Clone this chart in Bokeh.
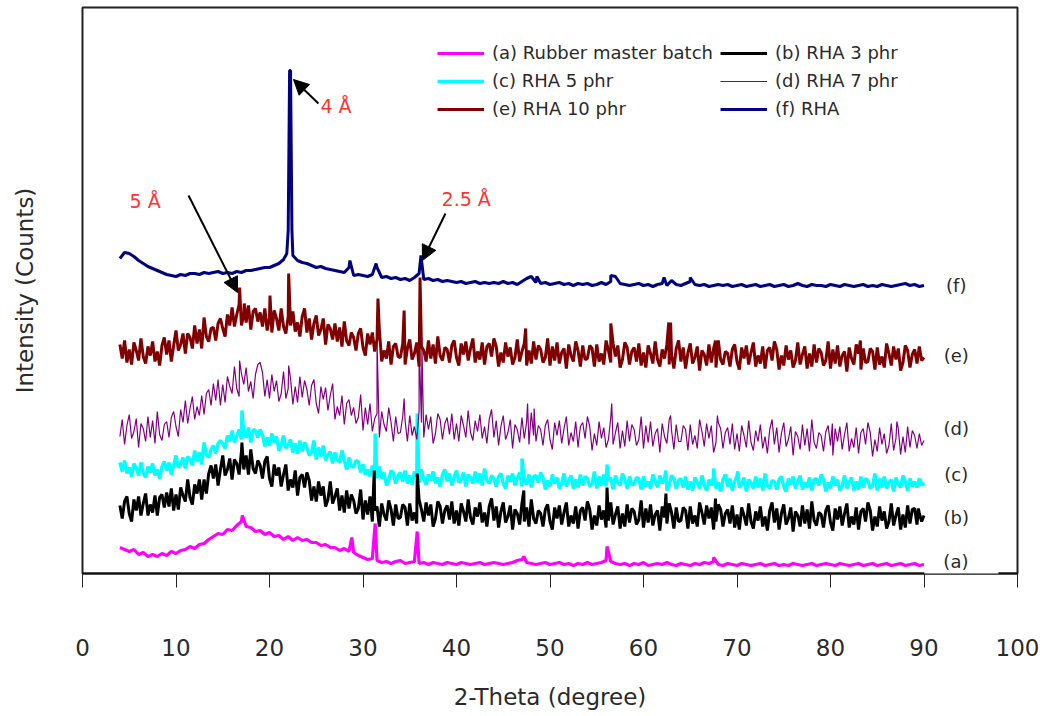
import numpy as np
from bokeh.plotting import figure
from bokeh.models import (FixedTicker, Legend, LegendItem, Label, Arrow,
                          NormalHead, Range1d, ColumnDataSource)
from bokeh.embed import file_html
from bokeh.resources import INLINE

# ---------------- data: 2-theta scans from 4 to 90 deg ----------------
X_START = 4.0
STEP_COARSE = 0.5    # (a), (f)
STEP_FINE = 0.25     # (b), (c), (d), (e)

# (a) Rubber master batch  (step 0.5)
A_VALS = [26, 24, 22, 24, 19, 21, 17, 19, 17, 20,
          18, 22, 20, 23, 24, 27, 25, 29, 30, 34,
          37, 40, 39, 44, 43, 48, 52, 47, 46, 42,
          43, 39, 41, 37, 38, 34, 37, 33, 36, 33,
          34, 31, 31, 28, 29, 26, 26, 23, 25, 22,
          21, 18, 16, 14, 15, 13, 11, 12, 10, 12,
          13, 10, 11, 12, 10, 11, 9, 11, 10, 9,
          11, 10, 9, 11, 10, 9, 10, 11, 9, 10,
          11, 10, 9, 10, 11, 13, 14, 11, 10, 9,
          10, 11, 9, 10, 11, 9, 10, 8, 10, 9,
          11, 9, 10, 11, 13, 12, 10, 9, 10, 8,
          10, 9, 11, 8, 9, 10, 9, 11, 9, 8,
          10, 9, 8, 10, 9, 11, 10, 12, 9, 8,
          10, 9, 8, 10, 9, 8, 9, 10, 8, 9,
          10, 8, 9, 8, 10, 9, 8, 9, 10, 8,
          9, 10, 9, 8, 10, 9, 8, 9, 10, 8,
          9, 10, 8, 9, 10, 8, 9, 10, 8, 9,
          10, 8, 9]
A_PEAK_X = [17.1, 28.8, 31.3, 35.8, 47.2, 56.1, 67.5]
A_PEAK_Y = [58, 36, 50, 42, 17, 27, 16]

# (b) RHA 3 phr  (step 0.25)
B_VALS = [68, 55, 72, 77, 60, 52, 74, 63, 77, 58, 70, 80, 58, 69, 61, 78, 58, 76, 79, 66,
          81, 67, 85, 63, 79, 64, 86, 78, 72, 94, 76, 69, 89, 80, 94, 74, 94, 80, 100, 108,
          95, 109, 88, 104, 118, 98, 104, 115, 94, 114, 110, 99, 122, 104, 118, 99, 124, 105, 100, 113,
          108, 95, 112, 117, 95, 87, 109, 98, 106, 87, 99, 109, 83, 94, 86, 103, 78, 96, 99, 86,
          101, 93, 73, 87, 72, 92, 78, 87, 67, 74, 92, 70, 77, 85, 63, 78, 61, 83, 65, 79,
          73, 60, 65, 84, 54, 73, 59, 77, 52, 63, 67, 47, 70, 59, 53, 73, 64, 48, 69, 55,
          56, 69, 66, 48, 70, 53, 61, 50, 74, 64, 52, 71, 58, 69, 47, 55, 72, 67, 50, 63,
          68, 54, 72, 50, 63, 48, 70, 62, 52, 74, 56, 49, 66, 57, 71, 51, 61, 47, 67, 75,
          53, 67, 46, 62, 71, 51, 57, 68, 44, 64, 60, 49, 70, 52, 66, 47, 74, 55, 50, 63,
          60, 47, 64, 69, 52, 44, 66, 55, 68, 49, 61, 71, 47, 58, 50, 67, 45, 63, 66, 53,
          72, 64, 44, 58, 48, 68, 54, 63, 46, 53, 71, 49, 59, 67, 45, 60, 47, 69, 51, 65,
          62, 49, 54, 73, 46, 65, 51, 69, 48, 59, 63, 43, 67, 56, 50, 70, 61, 45, 66, 52,
          53, 66, 63, 45, 67, 50, 58, 47, 71, 61, 49, 68, 55, 66, 44, 52, 69, 64, 47, 60,
          64, 50, 68, 46, 59, 44, 66, 58, 48, 70, 52, 45, 62, 53, 67, 47, 57, 43, 63, 71,
          51, 65, 44, 60, 69, 49, 55, 66, 42, 62, 58, 47, 68, 50, 64, 45, 72, 53, 48, 61,
          59, 46, 63, 68, 51, 43, 65, 54, 67, 48, 60, 70, 46, 57, 49, 66, 44, 62, 65, 52,
          71, 63, 43, 57, 47, 67, 53, 62, 45, 52, 70, 48, 58, 66, 44, 59, 46, 68, 50, 64,
          65, 49, 60, 52, 58]
B_PEAK_X = [17.05, 31.2, 35.8, 47.2, 56.1, 62.4, 67.7, 89.4]
B_PEAK_Y = [131, 103, 100, 83, 86, 80, 75, 65]

# (c) RHA 5 phr  (step 0.25)
C_VALS = [111, 102, 113, 100, 106, 97, 110, 105, 98, 111, 101, 96, 107, 101, 110, 98, 104, 95, 107, 112,
          103, 111, 99, 108, 118, 106, 109, 116, 105, 117, 114, 108, 123, 112, 121, 109, 131, 119, 116, 124,
          128, 120, 130, 133, 130, 125, 138, 132, 143, 131, 138, 144, 134, 141, 136, 146, 131, 144, 143, 136,
          144, 139, 127, 136, 128, 140, 131, 137, 123, 128, 138, 125, 129, 134, 121, 130, 120, 133, 122, 131,
          126, 118, 121, 133, 114, 126, 117, 128, 113, 119, 122, 110, 121, 114, 111, 123, 113, 104, 116, 108,
          106, 113, 112, 101, 109, 99, 104, 97, 108, 102, 95, 107, 95, 101, 88, 93, 103, 100, 90, 98,
          101, 92, 103, 90, 98, 89, 102, 97, 91, 104, 94, 89, 99, 93, 102, 90, 96, 87, 99, 104,
          92, 100, 88, 97, 103, 91, 94, 101, 87, 99, 96, 90, 102, 91, 100, 88, 105, 93, 90, 98,
          95, 87, 97, 100, 90, 85, 98, 92, 100, 88, 95, 101, 87, 94, 89, 99, 86, 97, 98, 91,
          101, 96, 84, 93, 87, 99, 90, 96, 85, 90, 100, 87, 93, 98, 85, 94, 86, 99, 88, 97,
          95, 87, 90, 102, 85, 97, 88, 99, 87, 93, 96, 84, 98, 91, 88, 100, 94, 85, 97, 89,
          89, 96, 95, 84, 97, 87, 92, 85, 99, 93, 86, 98, 90, 96, 83, 88, 98, 95, 85, 93,
          95, 86, 97, 84, 92, 83, 96, 91, 85, 98, 88, 83, 94, 88, 97, 85, 91, 82, 94, 99,
          87, 95, 83, 92, 98, 86, 89, 96, 82, 94, 91, 85, 97, 86, 95, 83, 100, 88, 85, 93,
          92, 84, 94, 97, 87, 82, 95, 89, 97, 85, 92, 98, 84, 91, 86, 96, 83, 94, 95, 88,
          99, 94, 82, 91, 85, 97, 88, 94, 83, 88, 98, 85, 91, 96, 83, 92, 84, 97, 86, 95,
          93, 85, 88, 100, 83, 95, 86, 97, 85, 91, 94, 82, 96, 89, 86, 98, 92, 83, 95, 87,
          92, 86, 95, 88, 91]
C_PEAK_X = [17.05, 31.3, 35.8, 47.0, 56.1, 62.4, 67.5, 70.1]
C_PEAK_Y = [163, 140, 160, 115, 109, 103, 105, 102]

# (d) RHA 7 phr  (step 0.25)
D_VALS = [137, 154, 129, 148, 159, 135, 142, 155, 126, 150, 145, 132, 157, 136, 153, 130, 162, 139, 133, 149,
          152, 136, 156, 162, 147, 137, 164, 151, 173, 150, 165, 177, 154, 167, 158, 178, 159, 180, 184, 168,
          190, 173, 194, 168, 189, 171, 197, 187, 180, 207, 185, 177, 200, 189, 206, 182, 192, 175, 199, 209,
          211, 201, 177, 194, 175, 199, 182, 193, 172, 180, 202, 175, 185, 195, 169, 187, 171, 197, 176, 193,
          184, 168, 188, 194, 170, 160, 187, 174, 186, 163, 178, 190, 154, 167, 158, 178, 149, 170, 174, 158,
          166, 150, 156, 179, 143, 166, 149, 170, 142, 155, 160, 136, 162, 149, 142, 166, 151, 132, 157, 140,
          141, 157, 153, 132, 158, 138, 147, 134, 163, 151, 136, 159, 144, 157, 130, 140, 160, 154, 134, 150,
          156, 139, 160, 134, 150, 132, 158, 148, 136, 163, 141, 133, 153, 142, 159, 135, 147, 130, 154, 164,
          136, 153, 128, 147, 158, 134, 141, 154, 125, 149, 144, 131, 156, 135, 152, 129, 161, 138, 132, 148,
          144, 128, 148, 154, 134, 124, 151, 138, 153, 130, 145, 157, 128, 141, 132, 152, 126, 147, 151, 135,
          157, 147, 123, 140, 128, 152, 135, 146, 126, 134, 156, 129, 141, 151, 125, 143, 127, 153, 132, 149,
          144, 128, 134, 157, 125, 148, 131, 152, 127, 140, 145, 121, 150, 137, 130, 154, 143, 124, 149, 132,
          132, 148, 144, 123, 149, 129, 138, 125, 154, 142, 127, 150, 135, 148, 121, 131, 151, 145, 125, 141,
          146, 129, 150, 124, 140, 122, 148, 138, 126, 153, 131, 123, 143, 132, 149, 125, 137, 120, 144, 154,
          129, 146, 121, 140, 151, 127, 134, 147, 118, 142, 137, 124, 149, 128, 145, 122, 154, 131, 125, 141,
          138, 122, 142, 148, 128, 118, 145, 132, 147, 124, 139, 151, 122, 135, 126, 146, 120, 141, 145, 129,
          151, 141, 117, 134, 122, 146, 129, 140, 120, 128, 150, 123, 135, 145, 119, 137, 121, 147, 126, 143,
          138, 125, 140, 128, 133]
D_PEAK_X = [16.8, 22.05, 31.5, 34.4, 36.0, 36.3, 47.6, 48.3, 56.6, 62.9, 67.9, 80.2, 87.1]
D_PEAK_Y = [213, 208, 233, 175, 233, 228, 170, 165, 170, 158, 158, 150, 152]

# (e) RHA 10 phr  (step 0.25)
E_VALS = [229, 215, 233, 211, 224, 209, 231, 223, 213, 235, 217, 210, 227, 218, 232, 212, 222, 208, 228, 236,
          219, 233, 212, 228, 243, 223, 229, 240, 220, 240, 236, 225, 248, 230, 244, 225, 256, 237, 232, 245,
          246, 233, 250, 255, 245, 237, 259, 248, 266, 247, 259, 269, 248, 259, 251, 268, 244, 262, 265, 252,
          261, 247, 265, 243, 256, 241, 263, 255, 243, 265, 247, 240, 257, 248, 262, 242, 251, 237, 257, 265,
          241, 255, 234, 250, 258, 238, 244, 255, 229, 249, 245, 234, 250, 232, 246, 227, 252, 233, 228, 241,
          236, 223, 240, 245, 226, 218, 240, 229, 241, 222, 234, 244, 212, 223, 215, 232, 209, 227, 230, 217,
          216, 230, 209, 225, 234, 214, 220, 231, 207, 227, 223, 212, 233, 215, 229, 210, 237, 218, 213, 226,
          224, 211, 228, 233, 216, 208, 230, 219, 232, 213, 225, 235, 211, 222, 214, 231, 209, 227, 230, 217,
          235, 227, 207, 221, 211, 231, 217, 226, 209, 216, 234, 212, 222, 230, 208, 223, 210, 232, 214, 228,
          224, 211, 216, 235, 208, 227, 213, 231, 210, 221, 225, 205, 229, 218, 212, 232, 223, 207, 228, 214,
          215, 228, 225, 207, 229, 212, 220, 209, 233, 223, 211, 230, 217, 228, 206, 214, 231, 226, 209, 222,
          226, 212, 230, 208, 221, 206, 228, 220, 210, 232, 214, 207, 224, 215, 229, 209, 219, 205, 225, 233,
          212, 226, 205, 221, 230, 210, 216, 227, 203, 223, 219, 208, 229, 211, 225, 206, 233, 214, 209, 222,
          220, 207, 224, 229, 212, 204, 226, 215, 228, 209, 221, 231, 207, 218, 210, 227, 205, 223, 226, 213,
          232, 224, 204, 218, 208, 228, 214, 223, 206, 213, 231, 209, 219, 227, 205, 220, 207, 229, 211, 225,
          221, 208, 213, 232, 205, 224, 210, 228, 207, 218, 222, 202, 226, 215, 209, 229, 220, 204, 225, 211,
          212, 225, 222, 204, 226, 209, 217, 206, 230, 220, 208, 227, 214, 225, 203, 211, 228, 223, 206, 219,
          224, 210, 227, 213, 216]
E_PEAK_X = [16.8, 17.3, 20.05, 22.05, 31.6, 34.4, 36.1, 47.4, 56.5, 62.7, 62.9, 67.7, 83.2]
E_PEAK_Y = [286, 270, 278, 300, 275, 263, 296, 245, 250, 251, 251, 233, 233]

# (f) RHA  (step 0.5)
F_VALS = [315, 321, 320, 317, 313, 310, 307, 305, 303, 301,
          299, 298, 297, 299, 298, 300, 300, 299, 301, 300,
          301, 302, 300, 301, 300, 302, 301, 303, 303, 304,
          305, 306, 306, 308, 310, 314, 343, 318, 313, 311,
          310, 308, 306, 307, 305, 304, 303, 302, 301, 306,
          298, 299, 298, 297, 299, 306, 296, 297, 295, 296,
          294, 295, 293, 296, 300, 294, 295, 293, 294, 292,
          293, 292, 291, 292, 290, 291, 292, 290, 291, 290,
          291, 290, 292, 290, 291, 289, 292, 295, 297, 291,
          290, 291, 289, 290, 291, 289, 290, 288, 290, 289,
          290, 288, 289, 291, 289, 292, 297, 290, 289, 288,
          289, 290, 288, 289, 287, 289, 290, 288, 293, 289,
          288, 290, 292, 289, 288, 289, 287, 288, 289, 288,
          289, 287, 288, 289, 287, 288, 289, 287, 288, 289,
          287, 288, 289, 287, 288, 290, 288, 287, 289, 288,
          288, 287, 289, 288, 287, 289, 288, 287, 288, 289,
          287, 288, 287, 289, 288, 287, 288, 289, 290, 288,
          289, 287, 288]
F_PEAK_X = [21.85, 22.15, 22.25, 22.4, 28.6, 31.4, 36.2, 48.6, 56.5, 62.2, 65.0]
F_PEAK_Y = [320, 503, 503, 343, 313, 310, 318, 297, 298, 296, 296]

SERIES_LABELS = ["(a) Rubber master batch", "(b) RHA 3 phr", "(c) RHA 5 phr",
                 "(d) RHA 7 phr", "(e) RHA 10 phr", "(f) RHA"]
SERIES_TAGS = ["(a)", "(b)", "(c)", "(d)", "(e)", "(f)"]
SERIES_COLORS = ["#ff00ff", "#000000", "#00ffff", "#800080", "#800000", "#000080"]
SERIES_WIDTHS = [3.2, 3.0, 3.4, 1.2, 3.0, 3.0]

# right-hand series tags (data units)
TAG_X = 93.45
TAG_Y = [10, 56, 99, 145, 218, 288]
TAG_A_BOX_X = 94.0   # the "(a)" tag sits in a white box that breaks the x axis line

# d-spacing annotations (data units)
ANNOT_TEXT = ["4 Å", "5 Å", "2.5 Å"]
ANNOT_TX = [25.45, 5.03, 38.40]
ANNOT_TY = [468, 373, 375]
ARROW_X0 = [25.24, 11.34, 38.82]
ARROW_Y0 = [470, 378, 360]
ARROW_X1 = [22.57, 16.58, 36.36]
ARROW_Y1 = [494, 281, 313]

X_TICKS = [0, 10, 20, 30, 40, 50, 60, 70, 80, 90, 100]

FONT = "DejaVu Sans"
TEXT_COLOR = "#2a2a2a"


def build(vals, step, px, py):
    n_expected = int(round((90 - X_START) / step)) + 1
    assert len(vals) == n_expected, (len(vals), n_expected)
    xs = list(X_START + step * np.arange(len(vals))) + list(px)
    ys = list(vals) + list(py)
    order = np.argsort(np.array(xs), kind="stable")
    return np.array(xs)[order], np.array(ys, dtype=float)[order]


data = [build(A_VALS, STEP_COARSE, A_PEAK_X, A_PEAK_Y),
        build(B_VALS, STEP_FINE, B_PEAK_X, B_PEAK_Y),
        build(C_VALS, STEP_FINE, C_PEAK_X, C_PEAK_Y),
        build(D_VALS, STEP_FINE, D_PEAK_X, D_PEAK_Y),
        build(E_VALS, STEP_FINE, E_PEAK_X, E_PEAK_Y),
        build(F_VALS, STEP_COARSE, F_PEAK_X, F_PEAK_Y)]

p = figure(width=1046, height=716, x_range=Range1d(0, 100), y_range=Range1d(0, 566),
           output_backend="svg", toolbar_location=None,
           min_border_left=82, min_border_right=29, min_border_top=7, min_border_bottom=143)
p.grid.visible = False
p.background_fill_color = "white"
p.border_fill_color = "white"
p.outline_line_color = "#222222"
p.outline_line_width = 2

xa = p.xaxis[0]
xa.ticker = FixedTicker(ticks=X_TICKS)
xa.minor_tick_line_color = None
xa.major_tick_in = 0
xa.major_tick_out = 14
xa.major_tick_line_width = 1
xa.major_tick_line_color = "#222222"
xa.axis_line_width = 2
xa.axis_line_color = "#111111"
xa.major_label_text_font = FONT
xa.major_label_text_font_size = "23px"
xa.major_label_text_color = TEXT_COLOR
xa.major_label_standoff = 51
xa.axis_label = "2-Theta (degree)"
xa.axis_label_text_font = FONT
xa.axis_label_text_font_size = "23px"
xa.axis_label_text_font_style = "normal"
xa.axis_label_text_color = TEXT_COLOR
xa.axis_label_standoff = 25

ya = p.yaxis[0]
ya.ticker = FixedTicker(ticks=[])
ya.axis_line_color = None
ya.major_tick_line_color = None
ya.minor_tick_line_color = None
ya.major_label_text_font_size = "0px"
ya.axis_label = "Intensity (Counts)"
ya.axis_label_text_font = FONT
ya.axis_label_text_font_size = "23px"
ya.axis_label_text_font_style = "normal"
ya.axis_label_text_color = TEXT_COLOR
ya.axis_label_standoff = 45

renderers = {}
for i in [0, 2, 1, 3, 4, 5]:
    xs, ys = data[i]
    src = ColumnDataSource(dict(x=xs, y=ys))
    renderers[i] = p.line("x", "y", source=src, line_color=SERIES_COLORS[i],
                          line_width=SERIES_WIDTHS[i])

items = [LegendItem(label=SERIES_LABELS[i], renderers=[renderers[i]]) for i in range(6)]
legend = Legend(items=items, orientation="horizontal", ncols=2, location=(355, 454),
                glyph_width=47, glyph_height=20, label_standoff=8, spacing=7,
                padding=0, margin=0, background_fill_alpha=0, border_line_color=None,
                label_text_font=FONT, label_text_font_size="18px",
                label_text_color=TEXT_COLOR, label_height=20)
p.add_layout(legend)

for i in range(6):
    if i == 0:
        p.add_layout(Label(x=TAG_A_BOX_X, y=TAG_Y[i], text=SERIES_TAGS[i], text_align="center",
                           text_baseline="middle", text_font=FONT, text_font_size="18px",
                           text_color=TEXT_COLOR, background_fill_color="white",
                           padding=dict(left=19, right=30, top=4, bottom=8)))
    else:
        p.add_layout(Label(x=TAG_X, y=TAG_Y[i], text=SERIES_TAGS[i], text_align="center",
                           text_baseline="middle", text_font=FONT, text_font_size="18px",
                           text_color=TEXT_COLOR))

for i in range(3):
    p.add_layout(Arrow(end=NormalHead(size=15, fill_color="black", line_color="black"),
                       x_start=ARROW_X0[i], y_start=ARROW_Y0[i],
                       x_end=ARROW_X1[i], y_end=ARROW_Y1[i],
                       line_color="black", line_width=2))
    p.add_layout(Label(x=ANNOT_TX[i], y=ANNOT_TY[i], text=ANNOT_TEXT[i], text_align="left",
                       text_baseline="middle", text_font=FONT, text_font_size="19px",
                       text_color="#ff3333"))

open("out.html", "w").write(file_html(p, INLINE))
